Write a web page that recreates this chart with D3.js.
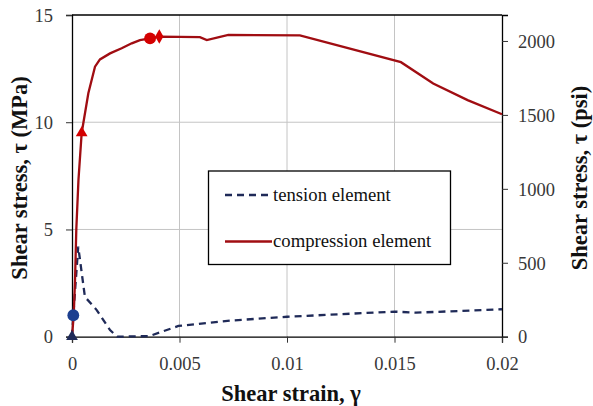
<!DOCTYPE html>
<html>
<head>
<meta charset="utf-8">
<script src="https://cdn.jsdelivr.net/npm/d3@7"></script>
<style>
  html, body { margin: 0; padding: 0; background: #fff; }
  svg { display: block; }
  svg text { font-family: "Liberation Serif", "Times New Roman", serif; }
</style>
</head>
<body>
<svg id="chart" width="593" height="406"></svg>
<script>
// Shear stress–strain response of the tension and compression elements
const tensionStrain = [0, 0.00006, 0.00029, 0.0006, 0.00115, 0.00177, 0.0021, 0.0036, 0.00495, 0.00735, 0.01, 0.015, 0.016, 0.02];
const tensionStress = [0, 1.0, 4.2, 1.86, 1.24, 0.31, 0, 0.03, 0.5, 0.75, 0.93, 1.17, 1.12, 1.28];

const compressionStrain = [0, 0.00008, 0.00014, 0.0002, 0.0003, 0.00045, 0.00076, 0.00107, 0.0013, 0.00177, 0.00231, 0.00278, 0.00316, 0.00363, 0.00406, 0.00595, 0.00627, 0.00727, 0.0106, 0.0153, 0.0168, 0.0184, 0.02];
const compressionStress = [0, 1.0, 2.6, 5.0, 7.3, 9.5, 11.35, 12.59, 12.93, 13.21, 13.45, 13.68, 13.83, 13.91, 13.99, 13.97, 13.83, 14.07, 14.05, 12.8, 11.81, 11.03, 10.37];

// Key points marked on each curve
const tensionMarkStrain = [0, 0.00006];
const tensionMarkStress = [0, 1.0];
const tensionMarkShape = ["triangle", "circle"];
const compressionMarkStrain = [0.00045, 0.00363, 0.00406];
const compressionMarkStress = [9.5, 13.91, 14.0];
const compressionMarkShape = ["triangle", "circle", "diamond"];

const xTicks = [0, 0.005, 0.01, 0.015, 0.02];
const xTickLabels = ["0", "0.005", "0.01", "0.015", "0.02"];
const yTicks = [0, 5, 10, 15];
const psiTicks = [0, 500, 1000, 1500, 2000];
const seriesNames = ["tension element", "compression element"];
const xTitle = "Shear strain, γ";
const yTitle = "Shear stress, τ (MPa)";
const yTitleRight = "Shear stress, τ (psi)";

const MPA_TO_PSI = 145.038;

const svg = d3.select("#chart");
const m = { left: 72, right: 502, top: 15, bottom: 336.7 };
const serif = "'Liberation Serif', 'Times New Roman', serif";

const x = d3.scaleLinear().domain([0, 0.02]).range([m.left, m.right]);
const y = d3.scaleLinear().domain([0, 15]).range([m.bottom, m.top]);
const yPsi = d3.scaleLinear().domain([0, 15 * MPA_TO_PSI]).range([m.bottom, m.top]);

const tensionColor = "#1f2a58";
const compressionColor = "#a00d12";
const markRed = "#d40000";
const markBlue = "#1d3f8f";
const labelColor = "#383838";

// gridlines
const grid = svg.append("g").attr("stroke", "#c4c4c4").attr("stroke-width", 1);
grid.selectAll("line.v").data(xTicks.slice(1, -1)).join("line")
  .attr("x1", d => x(d)).attr("x2", d => x(d))
  .attr("y1", m.top).attr("y2", m.bottom);
grid.selectAll("line.h").data(yTicks.slice(1, -1)).join("line")
  .attr("x1", m.left).attr("x2", m.right)
  .attr("y1", d => y(d)).attr("y2", d => y(d));

// top frame line
svg.append("line").attr("x1", m.left).attr("x2", m.right)
  .attr("y1", m.top).attr("y2", m.top).attr("stroke", "#000").attr("stroke-width", 1.3);

// axes
const tickFont = 18.5;
const xAxis = svg.append("g").attr("transform", `translate(0,${m.bottom})`)
  .call(d3.axisBottom(x).tickValues(xTicks).tickFormat((d, i) => xTickLabels[i]).tickSizeOuter(0).tickSize(6));
const yAxis = svg.append("g").attr("transform", `translate(${m.left},0)`)
  .call(d3.axisLeft(y).tickValues(yTicks).tickFormat(d3.format("d")).tickSizeOuter(0).tickSize(6));
const yAxisR = svg.append("g").attr("transform", `translate(${m.right},0)`)
  .call(d3.axisRight(yPsi).tickValues(psiTicks).tickFormat(d3.format("d")).tickSizeOuter(0).tickSize(6));

[xAxis, yAxis, yAxisR].forEach(g => {
  g.attr("font-family", null);
  g.selectAll(".domain").attr("stroke", "#000").attr("stroke-width", 1.3);
  g.selectAll(".tick line").attr("stroke", "#333");
  g.selectAll("text").style("font-family", serif)
    .attr("font-size", tickFont).attr("fill", labelColor);
});
// label placement: bottom labels sit below the ticks, side labels centred on them
xAxis.selectAll(".tick text").attr("y", 33.5).attr("dy", null);
yAxis.selectAll(".tick text").attr("x", -19).attr("dy", "0.34em");
yAxisR.selectAll(".tick text").attr("x", 16).attr("dy", "0.34em");

// axis titles
function title(tx, ty, rot, txt) {
  svg.append("text")
    .attr("transform", `translate(${tx},${ty})` + (rot ? ` rotate(${rot})` : ""))
    .attr("text-anchor", "middle").attr("font-weight", "bold").attr("font-size", 22.5)
    .style("font-family", serif).attr("fill", "#111").text(txt);
}
title(291, 401, 0, xTitle);
title(27, 178, -90, yTitle);
title(587, 178, -90, yTitleRight);

// curves
const line = d3.line().x(d => x(d[0])).y(d => y(d[1]));
const tensionData = d3.zip(tensionStrain, tensionStress);
const compressionData = d3.zip(compressionStrain, compressionStress);

svg.append("path").datum(tensionData).attr("d", line)
  .attr("fill", "none").attr("stroke", tensionColor).attr("stroke-width", 2.3)
  .attr("stroke-dasharray", "7,5");
svg.append("path").datum(compressionData).attr("d", line)
  .attr("fill", "none").attr("stroke", compressionColor).attr("stroke-width", 2.3);

// markers
const symbolType = { triangle: d3.symbolTriangle, circle: d3.symbolCircle, diamond: d3.symbolDiamond };
const symbolSize = { triangle: 60, circle: 110, diamond: 60 };
function drawMarks(strains, stresses, shapes, color) {
  svg.append("g").selectAll("path")
    .data(d3.zip(strains, stresses, shapes)).join("path")
    .attr("transform", d => `translate(${x(d[0])},${y(d[1])})`)
    .attr("d", d => d3.symbol().type(symbolType[d[2]]).size(symbolSize[d[2]])())
    .attr("fill", color);
}
drawMarks(compressionMarkStrain, compressionMarkStress, compressionMarkShape, markRed);
drawMarks(tensionMarkStrain.slice(1), tensionMarkStress.slice(1), tensionMarkShape.slice(1), markBlue);
drawMarks(tensionMarkStrain.slice(0, 1), tensionMarkStress.slice(0, 1), tensionMarkShape.slice(0, 1), tensionColor);

// legend
const lg = svg.append("g");
lg.append("rect").attr("x", 208.5).attr("y", 171).attr("width", 242).attr("height", 93.5)
  .attr("fill", "#fff").attr("stroke", "#000").attr("stroke-width", 1.3);
const legendRows = [
  { name: seriesNames[0], color: tensionColor, dash: "7,5", y: 195 },
  { name: seriesNames[1], color: compressionColor, dash: null, y: 241.5 }
];
legendRows.forEach(r => {
  lg.append("line").attr("x1", 225).attr("x2", 272).attr("y1", r.y).attr("y2", r.y)
    .attr("stroke", r.color).attr("stroke-width", 2.3)
    .attr("stroke-dasharray", r.dash);
  lg.append("text").attr("x", 273).attr("y", r.y).attr("dy", "0.3em")
    .style("font-family", serif).attr("font-size", 18.7).attr("fill", "#111").text(r.name);
});
</script>
</body>
</html>
